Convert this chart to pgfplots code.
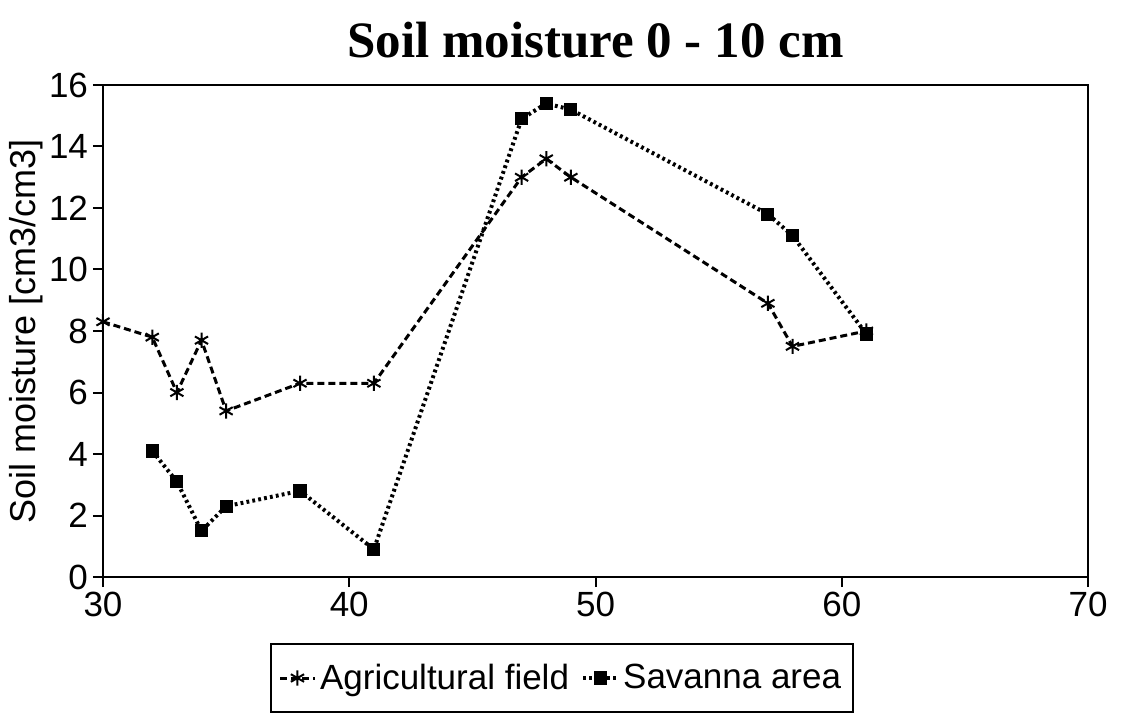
\documentclass[border=0pt]{standalone}
\usepackage{pgfplots}
\pgfplotsset{compat=1.18}
\usepackage{fontspec}
\setmainfont{Liberation Sans}
\newfontfamily\titlefont{Liberation Serif}
\begin{document}
\begin{tikzpicture}[x=1pt,y=1pt]
\path[use as bounding box] (-51.5,-70) rectangle (509.5,288.5);
\begin{axis}[
  at={(0,0)}, anchor=south west,
  scale only axis, width=492.5pt, height=246pt,
  xmin=30, xmax=70, ymin=0, ymax=16,
  xtick={30,40,50,60,70}, ytick={0,2,4,6,8,10,12,14,16},
  xtick pos=bottom, ytick pos=left, tick align=outside,
  major tick length=5pt,
  axis line style={line width=1.3pt},
  every tick/.style={black, line width=1pt},
  tick label style={font=\fontsize{17.5}{17.5}\selectfont},
  xticklabel style={yshift=1pt},
  yticklabel style={xshift=1pt},
  /pgf/number format/assume math mode=true,
  ylabel={Soil moisture [cm3/cm3]},
  ylabel style={font=\fontsize{18}{18}\selectfont, yshift=-4pt},
  title={\titlefont\bfseries Soil moisture 0 - 10 cm},
  title style={font=\fontsize{25.5}{25.5}\selectfont, yshift=4pt},
  legend style={at={(0.466,-0.134)}, anchor=north, legend columns=2,
    draw=black, line width=0.9pt, font=\fontsize{17.5}{17.5}\selectfont,
    inner xsep=4pt, inner ysep=8pt,
    /tikz/every even column/.append style={column sep=4pt}},
  legend cell align=left,
]
\addplot[black, line width=1.5pt, dash pattern=on 3.5pt off 2pt, mark=asterisk, mark size=3.8pt, mark options={solid, line width=1pt}]
coordinates {(30,8.3) (32,7.8) (33,6.0) (34,7.7) (35,5.4) (38,6.3) (41,6.3) (47,13.0) (48,13.6) (49,13.0) (57,8.9) (58,7.5) (61,8.0)};
\addlegendentry{Agricultural field}
\addplot[black, line width=2pt, dash pattern=on 1.4pt off 1.6pt, mark=square*, mark size=3pt, mark options={solid, line width=0.6pt}]
coordinates {(32,4.1) (33,3.1) (34,1.5) (35,2.3) (38,2.8) (41,0.9) (47,14.9) (48,15.4) (49,15.2) (57,11.8) (58,11.1) (61,7.9)};
\addlegendentry{Savanna area}
\end{axis}
\end{tikzpicture}
\end{document}
